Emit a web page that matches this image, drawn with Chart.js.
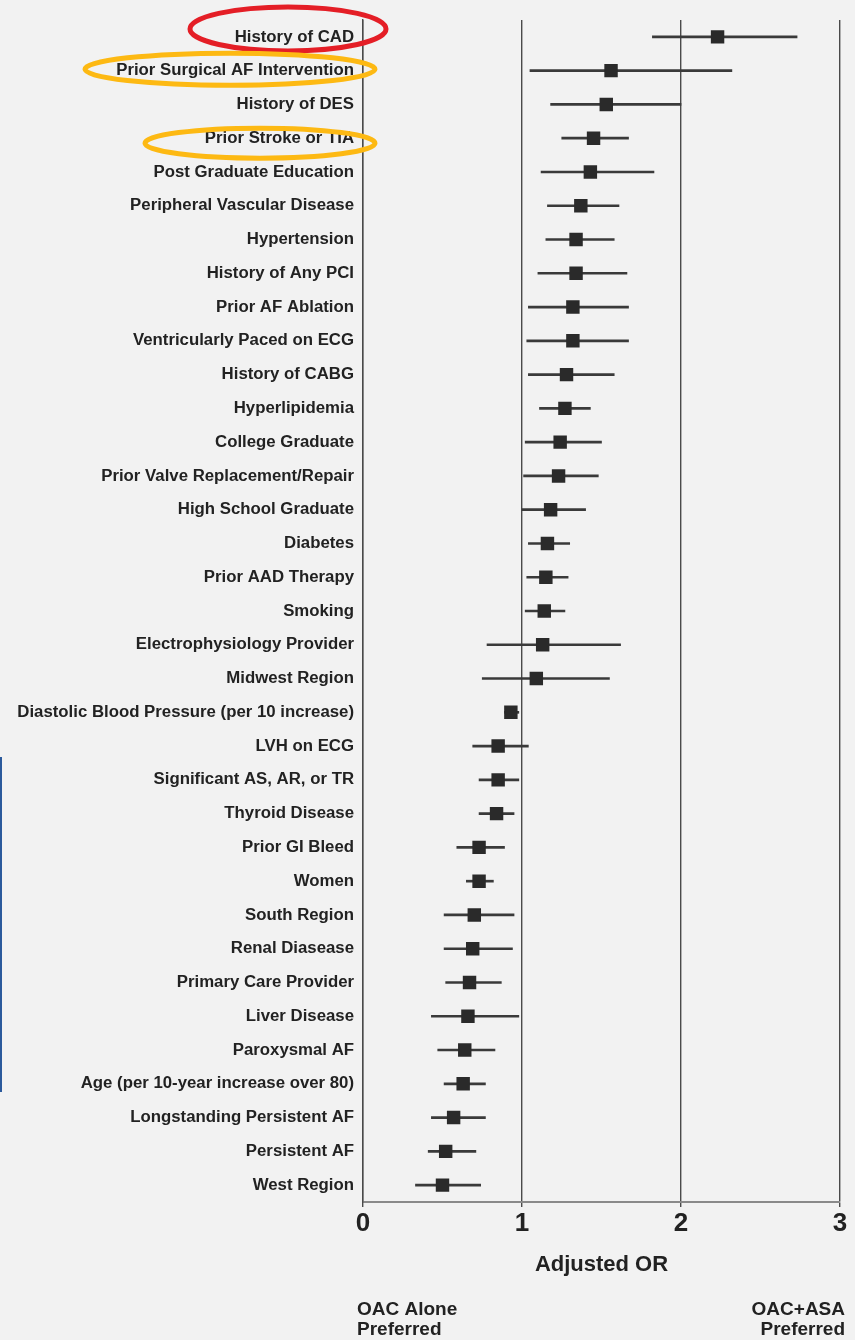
<!DOCTYPE html>
<html>
<head>
<meta charset="utf-8">
<script src="https://cdn.jsdelivr.net/npm/chart.js@4/dist/chart.umd.min.js"></script>
<style>
  html, body { margin: 0; padding: 0; background: #f2f2f2; }
  #wrap { width: 855px; height: 1340px; position: relative; }
  canvas { display: block; }
</style>
</head>
<body>
<div id="wrap"><canvas id="forest" width="855" height="1340"></canvas></div>
<script>
// Predictors of OAC + aspirin vs OAC alone (adjusted odds ratios, 95% CI)
const categories = [
  'History of CAD',
  'Prior Surgical AF Intervention',
  'History of DES',
  'Prior Stroke or TIA',
  'Post Graduate Education',
  'Peripheral Vascular Disease',
  'Hypertension',
  'History of Any PCI',
  'Prior AF Ablation',
  'Ventricularly Paced on ECG',
  'History of CABG',
  'Hyperlipidemia',
  'College Graduate',
  'Prior Valve Replacement/Repair',
  'High School Graduate',
  'Diabetes',
  'Prior AAD Therapy',
  'Smoking',
  'Electrophysiology Provider',
  'Midwest Region',
  'Diastolic Blood Pressure (per 10 increase)',
  'LVH on ECG',
  'Significant AS, AR, or TR',
  'Thyroid Disease',
  'Prior GI Bleed',
  'Women',
  'South Region',
  'Renal Diasease',
  'Primary Care Provider',
  'Liver Disease',
  'Paroxysmal AF',
  'Age (per 10-year increase over 80)',
  'Longstanding Persistent AF',
  'Persistent AF',
  'West Region'
];

const oddsRatio = [
  2.23, 1.56, 1.53, 1.45, 1.43, 1.37, 1.34, 1.34, 1.32, 1.32, 1.28,
  1.27, 1.24, 1.23, 1.18, 1.16, 1.15, 1.14, 1.13, 1.09,
  0.93, 0.85, 0.85, 0.84, 0.73, 0.73, 0.70, 0.69, 0.67, 0.66,
  0.64, 0.63, 0.57, 0.52, 0.50
];

const ciLower = [
  1.82, 1.05, 1.18, 1.25, 1.12, 1.16, 1.15, 1.10, 1.04, 1.03, 1.04,
  1.11, 1.02, 1.01, 1.00, 1.04, 1.03, 1.02, 0.78, 0.75,
  0.89, 0.69, 0.73, 0.73, 0.59, 0.65, 0.51, 0.51, 0.52, 0.43,
  0.47, 0.51, 0.43, 0.41, 0.33
];

const ciUpper = [
  2.73, 2.32, 2.00, 1.67, 1.83, 1.61, 1.58, 1.66, 1.67, 1.67, 1.58,
  1.43, 1.50, 1.48, 1.40, 1.30, 1.29, 1.27, 1.62, 1.55,
  0.98, 1.04, 0.98, 0.95, 0.89, 0.82, 0.95, 0.94, 0.87, 0.98,
  0.83, 0.77, 0.77, 0.71, 0.74
];

const xTickValues = [0, 1, 2, 3];

const FONT = '"Liberation Sans", Arial, Helvetica, sans-serif';
const INK = '#222222';

// hand-drawn highlight rings around selected predictor labels
const highlights = [
  { label: 'History of CAD',                 color: '#e41e26', cx: 288, rx: 98,  ry: 22, dy: -8, width: 5 },
  { label: 'Prior Surgical AF Intervention', color: '#fdb913', cx: 230, rx: 145, ry: 16, dy: -1.5, width: 5 },
  { label: 'Prior Stroke or TIA',            color: '#fdb913', cx: 260, rx: 115, ry: 15, dy: 5,  width: 5 }
];

const ciRanges = categories.map((_, i) => [ciLower[i], ciUpper[i]]);

const annotationPlugin = {
  id: 'forestNotes',
  afterDraw(chart) {
    const { ctx, scales: { x, y } } = chart;
    ctx.save();

    // preference notes under each end of the OR axis
    ctx.fillStyle = INK;
    ctx.font = 'bold 19px ' + FONT;
    ctx.textBaseline = 'alphabetic';
    ctx.textAlign = 'left';
    const left = x.getPixelForValue(xTickValues[0]) - 6;
    ctx.fillText('OAC Alone', left, 1315);
    ctx.fillText('Preferred', left, 1335);
    ctx.textAlign = 'right';
    const right = x.getPixelForValue(xTickValues[xTickValues.length - 1]) + 5;
    ctx.fillText('OAC+ASA', right, 1315);
    ctx.fillText('Preferred', right, 1335);

    // highlight rings
    highlights.forEach(h => {
      const idx = categories.indexOf(h.label);
      const cy = y.getPixelForValue(idx) + h.dy;
      ctx.beginPath();
      ctx.ellipse(h.cx, cy, h.rx, h.ry, 0, 0, Math.PI * 2);
      ctx.strokeStyle = h.color;
      ctx.lineWidth = h.width;
      ctx.stroke();
    });

    // blue edge rule at the far left
    ctx.beginPath();
    ctx.moveTo(1, 757);
    ctx.lineTo(1, 1092);
    ctx.strokeStyle = '#2b5a9c';
    ctx.lineWidth = 2;
    ctx.stroke();

    ctx.restore();
  }
};

new Chart(document.getElementById('forest'), {
  type: 'bar',
  data: {
    labels: categories,
    datasets: [
      {
        type: 'line',
        label: 'Adjusted OR',
        data: oddsRatio,
        indexAxis: 'y',
        showLine: false,
        pointStyle: 'rect',
        pointRadius: 9.5,
        pointHoverRadius: 9.5,
        pointBorderWidth: 0,
        backgroundColor: '#2a2a2a',
        borderColor: '#2a2a2a',
        order: 0
      },
      {
        type: 'bar',
        label: '95% CI',
        data: ciRanges,
        indexAxis: 'y',
        backgroundColor: '#3a3a3a',
        borderWidth: 0,
        barThickness: 2,
        order: 1
      }
    ]
  },
  options: {
    indexAxis: 'y',
    responsive: false,
    animation: false,
    layout: { padding: { top: 20, right: 15, left: 0, bottom: 0 } },
    plugins: {
      legend: { display: false },
      tooltip: { enabled: false }
    },
    scales: {
      x: {
        type: 'linear',
        position: 'bottom',
        min: 0,
        max: 3,
        afterBuildTicks(scale) {
          scale.ticks = xTickValues.map(v => ({ value: v }));
        },
        ticks: {
          color: INK,
          font: { family: FONT, size: 26, weight: 'bold' },
          padding: 1
        },
        grid: {
          color: '#4a4a4a',
          lineWidth: 1.4,
          tickLength: 5,
          drawOnChartArea: true
        },
        border: { display: true, color: '#8a8a8a', width: 2 },
        title: {
          display: true,
          text: 'Adjusted OR',
          color: INK,
          font: { family: FONT, size: 22, weight: 'bold' },
          padding: { top: 0, bottom: 62 }
        },
        afterFit(scale) { scale.height = 138; }
      },
      y: {
        type: 'category',
        offset: true,
        grid: { display: false, drawTicks: false },
        border: { display: true, color: '#4a4a4a', width: 1.4 },
        ticks: {
          color: INK,
          font: { family: FONT, size: 16.8, weight: 'bold' },
          padding: 9,
          autoSkip: false
        },
        afterFit(scale) { scale.width = 363; }
      }
    }
  },
  plugins: [annotationPlugin]
});
</script>
</body>
</html>
